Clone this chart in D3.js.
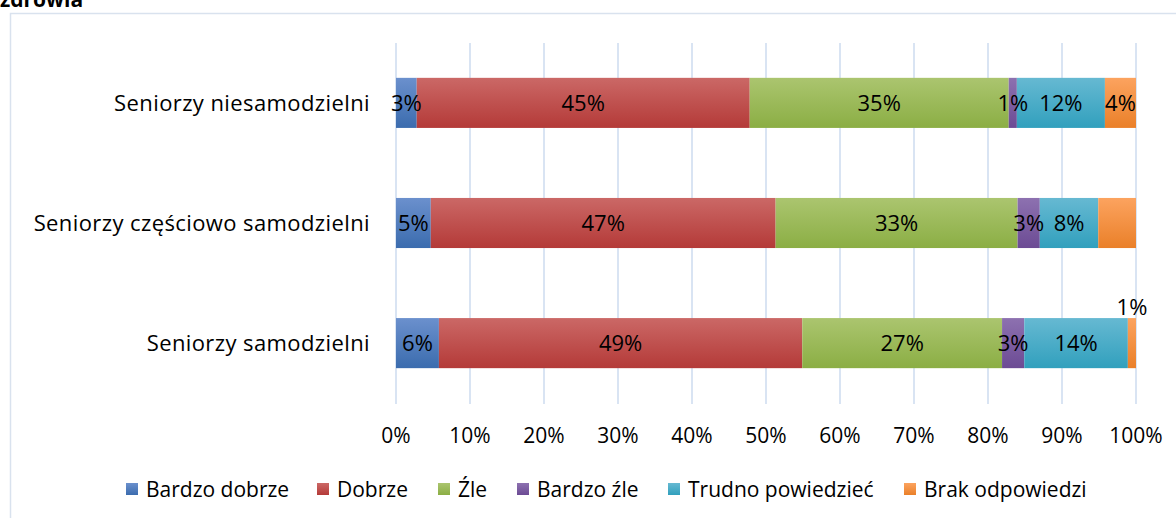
<!DOCTYPE html>
<html>
<head>
<meta charset="utf-8">
<script src="https://cdn.jsdelivr.net/npm/d3@7"></script>
<style>
  body { margin: 0; background: white; }
  svg { display: block; font-family: "Open Sans", sans-serif; }
</style>
</head>
<body>
<div id="graph"></div>
<script>
// dane
const categories = ["Seniorzy niesamodzielni", "Seniorzy częściowo samodzielni", "Seniorzy samodzielni"];
const seriesNames = ["Bardzo dobrze", "Dobrze", "Źle", "Bardzo źle", "Trudno powiedzieć", "Brak odpowiedzi"];
const bardzoDobrze = [2.8, 4.7, 5.8];
const dobrze = [45.0, 46.6, 49.1];
const zle = [35.0, 32.7, 27.0];
const bardzoZle = [1.1, 3.0, 3.0];
const trudno = [11.9, 7.9, 14.0];
const brak = [4.2, 5.1, 1.1];
// które etykiety widać na wykresie
const showLabel = [
    [true, true, true, true, true, true],
    [true, true, true, true, true, false],
    [true, true, true, true, true, true]
];
const xTicks = [0, 10, 20, 30, 40, 50, 60, 70, 80, 90, 100];

const colors = [
    ["#6b90cd", "#3b6cae"],
    ["#cb6866", "#b43a38"],
    ["#abc56f", "#8bae44"],
    ["#8d71b0", "#6c4b94"],
    ["#66b9d2", "#31a0bd"],
    ["#fca35f", "#ea8029"]
];

const values = [bardzoDobrze, dobrze, zle, bardzoZle, trudno, brak];

const table = categories.map((c, i) => {
    const row = { cat: c, idx: i };
    seriesNames.forEach((s, j) => row[s] = values[j][i]);
    return row;
});

const W = 1176, H = 518;
const svg = d3.select("#graph").append("svg").attr("width", W).attr("height", H);

const defs = svg.append("defs");
colors.forEach((c, j) => {
    const g = defs.append("linearGradient").attr("id", "g" + j)
        .attr("x1", 0).attr("y1", 0).attr("x2", 0).attr("y2", 1);
    g.append("stop").attr("offset", "0%").attr("stop-color", c[0]);
    g.append("stop").attr("offset", "100%").attr("stop-color", c[1]);
});

// tytuł (ucięty u góry)
svg.append("text").attr("x", 0).attr("y", 7)
    .attr("font-weight", "bold").attr("font-size", 21).attr("fill", "#000")
    .text("zdrowia");

// ramka
svg.append("rect").attr("x", 10.5).attr("y", 13.5).attr("width", W).attr("height", H)
    .attr("fill", "none").attr("stroke", "#d9e2ee").attr("stroke-width", 1.5);

const x = d3.scaleLinear().domain([0, 100]).range([396, 1136]);
const y = d3.scaleBand().domain(categories).range([43, 403]).paddingInner(0.583).paddingOuter(0.29);

// siatka
svg.append("g").selectAll("line").data(xTicks).join("line")
    .attr("x1", d => x(d)).attr("x2", d => x(d))
    .attr("y1", 43).attr("y2", 404)
    .attr("stroke", "#d9e4f3").attr("stroke-width", 2);

const stack = d3.stack().keys(seriesNames)(table);

const layers = svg.append("g").selectAll("g").data(stack).join("g")
    .attr("fill", (d, j) => `url(#g${j})`);

layers.selectAll("rect").data(d => d).join("rect")
    .attr("x", d => x(d[0]))
    .attr("width", d => x(d[1]) - x(d[0]))
    .attr("y", d => y(d.data.cat))
    .attr("height", y.bandwidth());

// etykiety danych
const fmt = d => Math.round(d) + "%";
stack.forEach((layer, j) => {
    layer.forEach((d, i) => {
        if (!showLabel[i][j]) return;
        const v = d[1] - d[0];
        let lx = (x(d[0]) + x(d[1])) / 2;
        let ly = y(d.data.cat) + y.bandwidth() / 2 + 8;
        if (v < 2 && j === 5) { // mała wartość nad słupkiem
            lx = x(d[1]) - 4;
            ly = y(d.data.cat) - 3;
        }
        svg.append("text").attr("x", lx).attr("y", ly)
            .attr("text-anchor", "middle").attr("font-size", 22).attr("fill", "#000")
            .text(fmt(v));
    });
});

// kategorie
svg.append("g").selectAll("text").data(categories).join("text")
    .attr("x", 370).attr("y", d => y(d) + y.bandwidth() / 2 + 8)
    .attr("text-anchor", "end").attr("font-size", 22).attr("letter-spacing", 0.4)
    .attr("fill", "#000")
    .text(d => d);

// oś X
svg.append("g").selectAll("text").data(xTicks).join("text")
    .attr("x", d => x(d)).attr("y", 443)
    .attr("text-anchor", "middle").attr("font-size", 21).attr("fill", "#000")
    .text(d => d + "%");

// legenda
const legendX = [126, 317, 438, 517, 668, 904];
const lg = svg.append("g").selectAll("g").data(seriesNames).join("g")
    .attr("transform", (d, j) => `translate(${legendX[j]},483)`);
lg.append("rect").attr("width", 12).attr("height", 12).attr("fill", (d, j) => `url(#g${j})`);
lg.append("text").attr("x", 20).attr("y", 14).attr("font-size", 21).attr("fill", "#000").text(d => d);
</script>
</body>
</html>
